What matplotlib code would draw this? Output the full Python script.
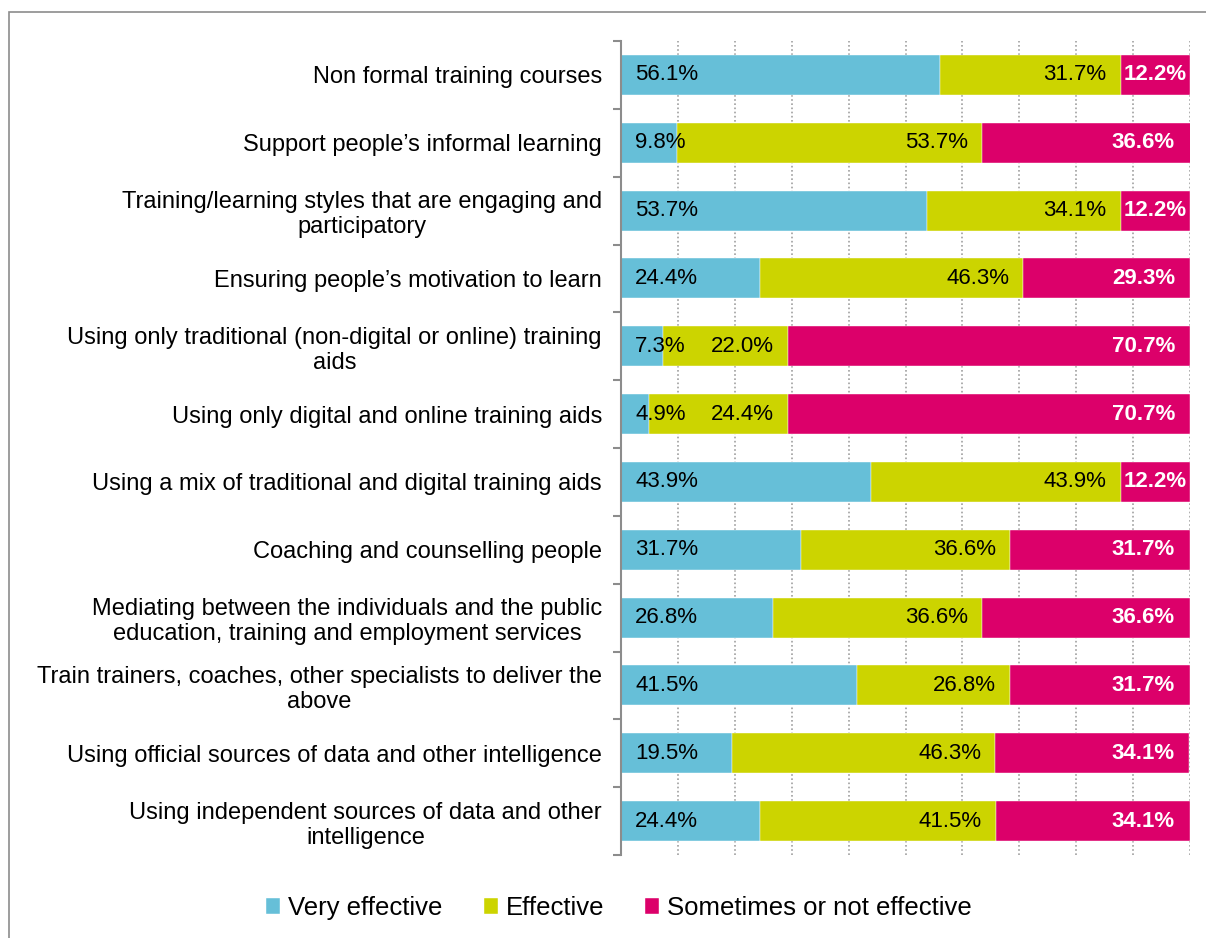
import matplotlib

matplotlib.use("Agg")
import matplotlib.pyplot as plt
from matplotlib import font_manager
from matplotlib.patches import Rectangle
import numpy as np

plt.rcParams["font.family"] = ["Liberation Sans", "DejaVu Sans"]

categorias = [
    "Non formal training courses",
    "Support people\u2019s informal learning",
    "Training/learning styles that are engaging and\nparticipatory",
    "Ensuring people\u2019s motivation to learn",
    "Using only traditional (non-digital or online) training\naids",
    "Using only digital and online training aids",
    "Using a mix of traditional and digital training aids",
    "Coaching and counselling people",
    "Mediating between the individuals and the public\neducation, training and employment services",
    "Train trainers, coaches, other specialists to deliver the\nabove",
    "Using official sources of data and other intelligence",
    "Using independent sources of data and other\nintelligence",
]
muito_efetivo = [56.1, 9.8, 53.7, 24.4, 7.3, 4.9, 43.9, 31.7, 26.8, 41.5, 19.5, 24.4]
efetivo = [31.7, 53.7, 34.1, 46.3, 22.0, 24.4, 43.9, 36.6, 36.6, 26.8, 46.3, 41.5]
nao_efetivo = [12.2, 36.6, 12.2, 29.3, 70.7, 70.7, 12.2, 31.7, 36.6, 31.7, 34.1, 34.1]
series = ["Very effective", "Effective", "Sometimes or not effective"]
cores = ["#66BFD8", "#CCD400", "#DC006A"]

# os números do original parecem numa fonte estreita
tem_narrow = any(f.name == "Liberation Sans Narrow" for f in font_manager.fontManager.ttflist)
FAM_VAL = ["Liberation Sans Narrow", "Liberation Sans"] if tem_narrow else ["Liberation Sans"]
FS_VAL = 17.5 if tem_narrow else 16

fig = plt.figure(figsize=(12.06, 9.38), dpi=100)
fig.patches.append(Rectangle((9 / 1206, -0.1), 1.2, (938 - 12) / 938 + 0.1,
                             transform=fig.transFigure, fill=False,
                             edgecolor="#8c8c8c", linewidth=1.2))
ax = fig.add_axes([621 / 1206, 83 / 938, 569 / 1206, 814 / 938])

y = np.arange(len(categorias))
esq = np.zeros(len(categorias))
for nome, vals, cor in zip(series, [muito_efetivo, efetivo, nao_efetivo], cores):
    ax.barh(y, vals, left=esq, height=0.59, color=cor, label=nome,
            edgecolor="white", linewidth=0.3)
    esq = esq + np.array(vals)

# rótulos de valor
for i in range(len(categorias)):
    v0, v1, v2 = muito_efetivo[i], efetivo[i], nao_efetivo[i]
    ax.annotate(f"{v0:.1f}%", (0, i), xytext=(14, 0), textcoords="offset pixels",
                ha="left", va="center", fontsize=FS_VAL, family=FAM_VAL, color="black")
    ax.annotate(f"{v1:.1f}%", (v0 + v1, i), xytext=(-14, 0), textcoords="offset pixels",
                ha="right", va="center", fontsize=FS_VAL, family=FAM_VAL, color="black")
    fim = min(v0 + v1 + v2, 100)
    if v2 < 15:
        ax.text(v0 + v1 + v2 / 2, i, f"{v2:.1f}%", ha="center", va="center",
                fontsize=FS_VAL, family=FAM_VAL, color="white", weight="bold")
    else:
        ax.annotate(f"{v2:.1f}%", (fim, i), xytext=(-15, 0), textcoords="offset pixels",
                    ha="right", va="center", fontsize=FS_VAL, family=FAM_VAL,
                    color="white", weight="bold")

ax.set_xlim(0, 100)
ax.set_ylim(len(categorias) - 0.5, -0.5)
ax.set_xticks(np.arange(10, 101, 10))
ax.tick_params(axis="x", length=0, labelbottom=False)
ax.grid(axis="x", color="#a0a0a0", linestyle=(0, (1, 1.5)), linewidth=1.2)
ax.set_axisbelow(True)

ax.set_yticks(y)
ax.set_yticklabels(categorias, fontsize=17, multialignment="center")
ax.tick_params(axis="y", which="major", length=0, pad=13.7)
ax.set_yticks(np.arange(-0.5, len(categorias), 1), minor=True)
ax.tick_params(axis="y", which="minor", length=6, width=1.5, color="#8c8c8c")

for s in ["top", "right", "bottom"]:
    ax.spines[s].set_visible(False)
ax.spines["left"].set_color("#8c8c8c")
ax.spines["left"].set_linewidth(1.5)

fig.legend(loc="center", bbox_to_anchor=(619 / 1206, 1 - 908 / 938), ncol=3,
           frameon=False, fontsize=18.5, handlelength=0.55, handleheight=0.55,
           handletextpad=0.31, columnspacing=1.6)

fig.savefig("out.png", dpi=100)
